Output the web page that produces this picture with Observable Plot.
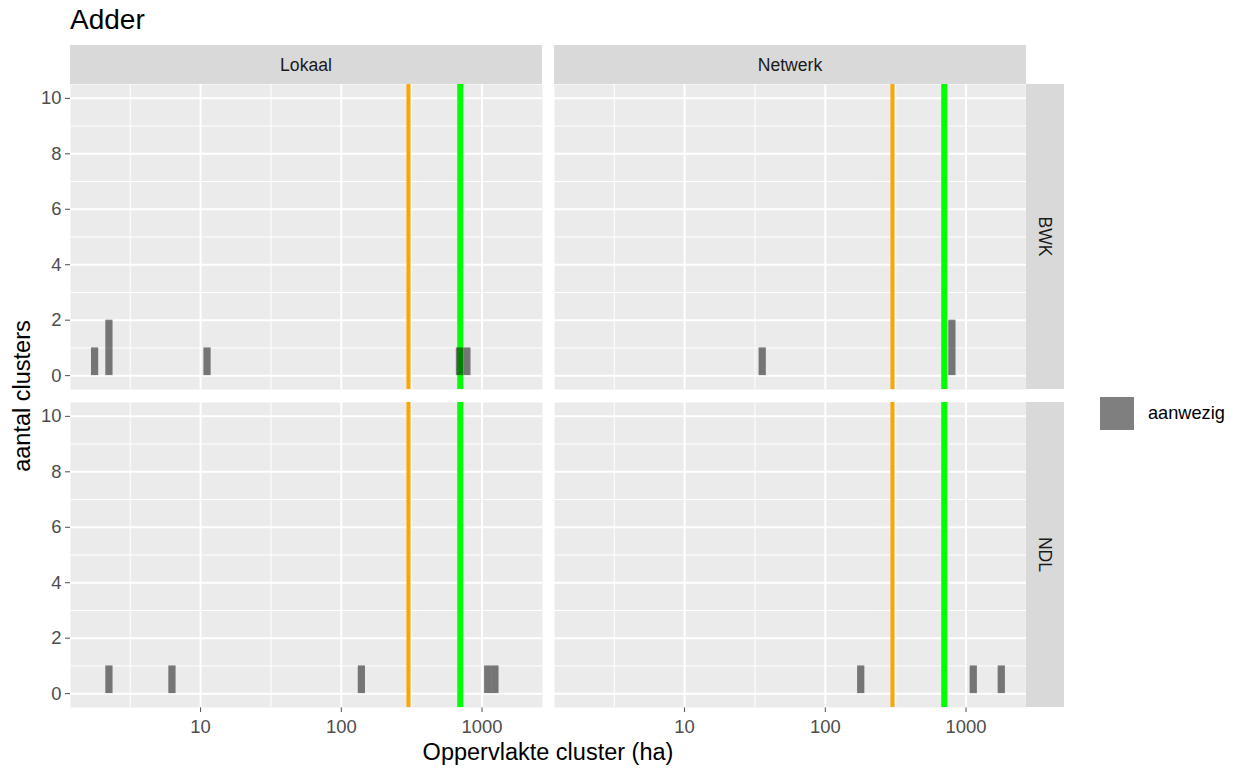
<!DOCTYPE html>
<html>
<head>
<meta charset="utf-8">
<script src="https://cdn.jsdelivr.net/npm/d3@7"></script>
<script src="https://cdn.jsdelivr.net/npm/@observablehq/plot@0.6"></script>
<style>
  html, body { margin: 0; padding: 0; background: white; }
  body { width: 1239px; height: 769px; position: relative; overflow: hidden;
         font-family: "Liberation Sans", Arial, sans-serif; }
  #title { height: 45px; box-sizing: border-box; padding-top: 6px; padding-left: 70px;
           font-size: 28px; line-height: 28px; color: #000; }
  #legend { position: absolute; left: 1100px; top: 397px; display: flex; align-items: center; }
  #legend .key { width: 34px; height: 33px; background: #7f7f7f; }
  #legend .lab { margin-left: 14px; font-size: 18.2px; color: #000; }
  svg [aria-label="x-axis tick"], svg [aria-label="y-axis tick"] { stroke: #333333; }
</style>
</head>
<body>
<div id="title">Adder</div>
<div id="chart"></div>
<div id="legend"><div class="key"></div><div class="lab">aanwezig</div></div>
<script>
// ---- data ----
const methods = ["Lokaal", "Netwerk"];
const sources = ["BWK", "NDL"];
const barMethod = ["Lokaal", "Lokaal", "Lokaal", "Lokaal", "Lokaal",
                   "Lokaal", "Lokaal", "Lokaal", "Lokaal", "Lokaal",
                   "Netwerk", "Netwerk",
                   "Netwerk", "Netwerk", "Netwerk"];
const barSource = ["BWK", "BWK", "BWK", "BWK", "BWK",
                   "NDL", "NDL", "NDL", "NDL", "NDL",
                   "BWK", "BWK",
                   "NDL", "NDL", "NDL"];
const barArea  = [1.78, 2.25, 11.2, 697, 787,
                  2.25, 6.31, 140, 1107, 1245,
                  35.9, 800,
                  180, 1135, 1795];
const barCount = [1, 2, 1, 1, 1,
                  1, 1, 1, 1, 1,
                  1, 2,
                  1, 1, 1];
const thresholdOrange = [300];
const thresholdGreen = [700];
const xTicks = [10, 100, 1000];
const xMinor = [Math.sqrt(10), Math.sqrt(1000), Math.sqrt(100000)];
const yTicks = [0, 2, 4, 6, 8, 10];
const yMinor = [1, 3, 5, 7, 9];

// ---- layout constants ----
const W = 1239, H = 724;
const mL = 70, mR = 213, mT = 39, mB = 61;
const barLogWidth = 0.0514; // bar width in log10 units

const bars = barArea.map((a, i) => ({method: barMethod[i], source: barSource[i], area: a, count: barCount[i]}));
const half = Math.pow(10, barLogWidth / 2);

const fig = Plot.plot({
  width: W, height: H,
  marginLeft: mL, marginRight: mR, marginTop: mT, marginBottom: mB,
  style: {fontFamily: "'Liberation Sans', Arial, sans-serif", fontSize: "18.4px", color: "#4d4d4d", background: "white", overflow: "visible"},
  x: {type: "log", domain: [1.19, 2690], ticks: xTicks, tickFormat: d => String(d), tickSize: 5, tickPadding: 7, label: null},
  y: {domain: [-0.5, 10.5], ticks: yTicks, tickSize: 5, tickPadding: 4, label: null},
  fx: {domain: methods, paddingInner: 12 / 484, paddingOuter: 0, axis: null, label: null},
  fy: {domain: sources, paddingInner: 13 / 318.5, paddingOuter: 0, axis: null, label: null},
  marks: [
    Plot.frame({fill: "#ebebeb"}),
    Plot.ruleX(xMinor, {stroke: "white", strokeWidth: 1, strokeOpacity: 1}),
    Plot.ruleY(yMinor, {stroke: "white", strokeWidth: 1, strokeOpacity: 1}),
    Plot.ruleX(xTicks, {stroke: "white", strokeWidth: 2, strokeOpacity: 1}),
    Plot.ruleY(yTicks, {stroke: "white", strokeWidth: 2, strokeOpacity: 1}),
    Plot.ruleX(thresholdOrange, {stroke: "#FFA500", strokeWidth: 4}),
    Plot.ruleX(thresholdGreen, {stroke: "#00FF00", strokeWidth: 6}),
    Plot.rect(bars, {
      x1: d => d.area / half, x2: d => d.area * half,
      y1: () => 0, y2: "count",
      fx: "method", fy: "source",
      fill: "black", fillOpacity: 0.5, inset: 0
    })
  ]
});
document.getElementById("chart").appendChild(fig);

// ---- strips and axis titles ----
const svg = d3.select(fig.tagName.toLowerCase() === "svg" ? fig : fig.querySelector("svg"));
let fxS = null, fyS = null;
try { fxS = fig.scale("fx"); fyS = fig.scale("fy"); } catch (e) {}
const fxPos = d => fxS && fxS.apply ? fxS.apply(d) : (d === "Lokaal" ? mL : mL + 484);
const fxBw = fxS && fxS.bandwidth ? fxS.bandwidth : 472;
const fyPos = d => fyS && fyS.apply ? fyS.apply(d) : (d === "BWK" ? mT : mT + 318.5);
const fyBw = fyS && fyS.bandwidth ? fyS.bandwidth : 305.5;

const strips = svg.append("g").attr("font-family", "'Liberation Sans', Arial, sans-serif").attr("font-size", "17.6px");
methods.forEach(m => {
  strips.append("rect").attr("x", fxPos(m)).attr("y", 0).attr("width", fxBw).attr("height", mT).attr("fill", "#d9d9d9");
  strips.append("text").attr("x", fxPos(m) + fxBw / 2).attr("y", mT / 2).attr("dy", "0.35em")
    .attr("text-anchor", "middle").attr("fill", "#1a1a1a").text(m);
});
sources.forEach(s => {
  const x0 = W - mR;
  strips.append("rect").attr("x", x0).attr("y", fyPos(s)).attr("width", 38).attr("height", fyBw).attr("fill", "#d9d9d9");
  const cx = x0 + 19, cy = fyPos(s) + fyBw / 2;
  strips.append("text").attr("transform", `translate(${cx},${cy}) rotate(90)`).attr("dy", "0.35em")
    .attr("text-anchor", "middle").attr("fill", "#1a1a1a").text(s);
});
const titles = svg.append("g").attr("font-family", "'Liberation Sans', Arial, sans-serif").attr("font-size", "23.5px").attr("fill", "black");
titles.append("text").attr("x", mL + (W - mL - mR) / 2).attr("y", 715).attr("text-anchor", "middle").text("Oppervlakte cluster (ha)");
titles.append("text").attr("transform", `translate(30,${mT + (H - mT - mB) / 2}) rotate(-90)`).attr("text-anchor", "middle").text("aantal clusters");
</script>
</body>
</html>
